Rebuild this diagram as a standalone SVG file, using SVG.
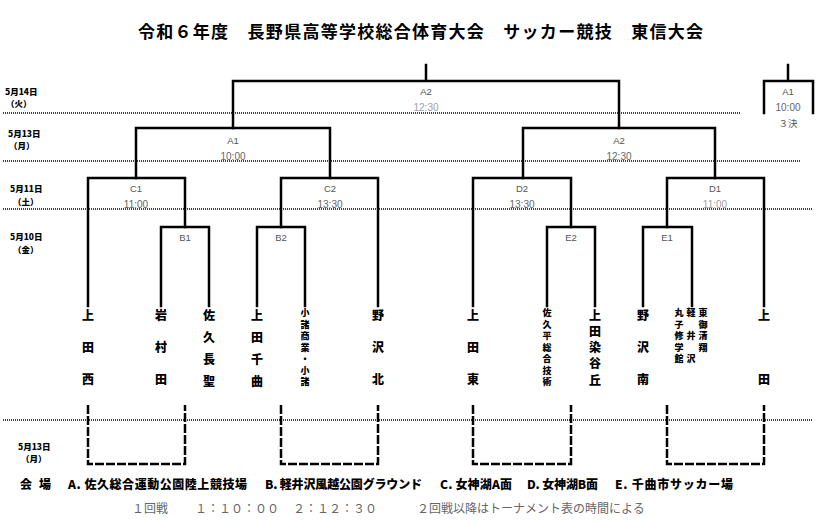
<svg xmlns="http://www.w3.org/2000/svg" width="827" height="522" viewBox="0 0 827 522">
<style>
.bg{fill:#fff}
.title{font-family:"Noto Sans CJK JP","Liberation Sans",sans-serif;font-weight:700;font-size:17px;fill:#000}
.date{font-family:"Noto Sans CJK JP","Liberation Sans",sans-serif;font-weight:900;font-size:8.5px;fill:#000}
.grid{stroke:#000;stroke-width:1.5;stroke-dasharray:1 1;fill:none}
.br{stroke:#000;stroke-width:2.5;fill:none;stroke-linecap:square}
.dash{stroke:#000;stroke-width:2.5;fill:none;stroke-dasharray:9 2}
.lbl{font-family:"Liberation Sans","Noto Sans CJK JP",sans-serif;font-size:9.5px;fill:#555;text-anchor:middle}
.tm{font-family:"Liberation Sans","Noto Sans CJK JP",sans-serif;font-size:10px;fill:#666;text-anchor:middle}
.tm2{fill:#a0a0a0}
.team{font-family:"Noto Sans CJK JP",sans-serif;font-weight:900;font-size:12px;fill:#000;text-anchor:middle}
.sm{font-size:9px}
.sm2{font-size:9px}
.foot{font-family:"Noto Sans CJK JP","Liberation Sans",sans-serif;font-weight:900;font-size:12px;fill:#000}
.foot2{font-family:"Noto Sans CJK JP","Liberation Sans",sans-serif;font-size:12px;fill:#666}
</style>
<rect class="bg" x="0" y="0" width="827" height="522"/>
<text class="title" x="138" y="38" textLength="565" lengthAdjust="spacing">令和６年度　長野県高等学校総合体育大会　サッカー競技　東信大会</text>

<g id="grid">
<line class="grid" x1="3" y1="113" x2="740" y2="113"/>
<line class="grid" x1="3" y1="161" x2="800" y2="161"/>
<line class="grid" x1="3" y1="209" x2="812" y2="209"/>
<line class="grid" x1="3" y1="420" x2="812" y2="420"/>
</g>

<g id="dates">
<text class="date" x="5" y="95">5月14日</text>
<text class="date" x="6" y="107">（火）</text>
<text class="date" x="8" y="137">5月13日</text>
<text class="date" x="9" y="149">（月）</text>
<text class="date" x="10" y="192">5月11日</text>
<text class="date" x="13" y="205">（土）</text>
<text class="date" x="10" y="240">5月10日</text>
<text class="date" x="13" y="253">（金）</text>
<text class="date" x="18" y="450">5月13日</text>
<text class="date" x="21" y="462">（月）</text>
</g>

<g id="connectors">
<path class="br" d="M426 65V81M233 128V81H619V128"/>
<path class="br" d="M136 178V128H330V178"/>
<path class="br" d="M523 178V128H715V178"/>
<path class="br" d="M88 306V178H185V227"/>
<path class="br" d="M161 306V227H209V306"/>
<path class="br" d="M281 227V178H378V306"/>
<path class="br" d="M257 306V227H305V306"/>
<path class="br" d="M473 306V178H571V227"/>
<path class="br" d="M547 306V227H595V306"/>
<path class="br" d="M667 227V178H764V306"/>
<path class="br" d="M643 306V227H692V306"/>
<path class="br" d="M788 65V81M764 113V81H813V113"/>
<path class="dash" d="M88 405V464H185V405"/>
<path class="dash" d="M281 405V464H378V405"/>
<path class="dash" d="M473 405V464H571V405"/>
<path class="dash" d="M667 405V464H764V405"/>
</g>

<g id="final">
<text class="lbl" x="426" y="95">A2</text>
<text class="tm tm2" x="426" y="111">12:30</text>
</g>
<g id="third">
<text class="lbl" x="788" y="95">A1</text>
<text class="tm" x="788" y="111">10:00</text>
<text class="lbl" x="788" y="127" style="font-family:'Noto Sans CJK JP',sans-serif">３決</text>
</g>
<g id="semi-A1">
<text class="lbl" x="233" y="144">A1</text>
<text class="tm" x="233" y="160">10:00</text>
</g>
<g id="semi-A2">
<text class="lbl" x="619" y="144">A2</text>
<text class="tm" x="619" y="160">12:30</text>
</g>
<g id="qf-C1">
<text class="lbl" x="136" y="192">C1</text>
<text class="tm" x="136" y="208">11:00</text>
</g>
<g id="qf-C2">
<text class="lbl" x="330" y="192">C2</text>
<text class="tm" x="330" y="208">13:30</text>
</g>
<g id="qf-D2">
<text class="lbl" x="522" y="192">D2</text>
<text class="tm" x="522" y="208">13:30</text>
</g>
<g id="qf-D1">
<text class="lbl" x="715" y="192">D1</text>
<text class="tm tm2" x="715" y="208">11:00</text>
</g>
<g id="r1-B1"><text class="lbl" x="185" y="241">B1</text></g>
<g id="r1-B2"><text class="lbl" x="281" y="241">B2</text></g>
<g id="r1-E2"><text class="lbl" x="571" y="241">E2</text></g>
<g id="r1-E1"><text class="lbl" x="667" y="241">E1</text></g>

<g id="team-uedanishi"><text class="team"><tspan x="88" y="319.5">上</tspan><tspan x="88" y="351.5">田</tspan><tspan x="88" y="383.5">西</tspan></text></g>
<g id="team-iwamurada"><text class="team"><tspan x="161" y="319.5">岩</tspan><tspan x="161" y="351.5">村</tspan><tspan x="161" y="383.5">田</tspan></text></g>
<g id="team-sakuchosei"><text class="team"><tspan x="209" y="319.5">佐</tspan><tspan x="209" y="342">久</tspan><tspan x="209" y="364">長</tspan><tspan x="209" y="385.5">聖</tspan></text></g>
<g id="team-uedachikuma"><text class="team"><tspan x="257" y="319.5">上</tspan><tspan x="257" y="342">田</tspan><tspan x="257" y="364">千</tspan><tspan x="257" y="385.5">曲</tspan></text></g>
<g id="team-komoro"><text class="team sm"><tspan x="305" y="316.4">小</tspan><tspan x="305" y="327.9">諸</tspan><tspan x="305" y="339.4">商</tspan><tspan x="305" y="350.9">業</tspan><tspan x="305" y="362.4">・</tspan><tspan x="305" y="373.9">小</tspan><tspan x="305" y="385.4">諸</tspan></text></g>
<g id="team-nozawakita"><text class="team"><tspan x="378" y="319.5">野</tspan><tspan x="378" y="351.5">沢</tspan><tspan x="378" y="383.5">北</tspan></text></g>
<g id="team-uedahigashi"><text class="team"><tspan x="473" y="319.5">上</tspan><tspan x="473" y="351.5">田</tspan><tspan x="473" y="383.5">東</tspan></text></g>
<g id="team-sakudaira"><text class="team sm"><tspan x="547" y="316.4">佐</tspan><tspan x="547" y="327.9">久</tspan><tspan x="547" y="339.4">平</tspan><tspan x="547" y="350.9">総</tspan><tspan x="547" y="362.4">合</tspan><tspan x="547" y="373.9">技</tspan><tspan x="547" y="385.4">術</tspan></text></g>
<g id="team-someyagaoka"><text class="team"><tspan x="595" y="319.5">上</tspan><tspan x="595" y="335.75">田</tspan><tspan x="595" y="352">染</tspan><tspan x="595" y="368.25">谷</tspan><tspan x="595" y="384.5">丘</tspan></text></g>
<g id="team-nozawaminami"><text class="team"><tspan x="643" y="319.5">野</tspan><tspan x="643" y="351.5">沢</tspan><tspan x="643" y="383.5">南</tspan></text></g>
<g id="team-joint">
<text class="team sm2"><tspan x="679" y="316.4">丸</tspan><tspan x="679" y="327.9">子</tspan><tspan x="679" y="339.4">修</tspan><tspan x="679" y="350.9">学</tspan><tspan x="679" y="362.4">館</tspan></text>
<text class="team sm2"><tspan x="691" y="316.4">軽</tspan><tspan x="691" y="339.4">井</tspan><tspan x="691" y="362.4">沢</tspan></text>
<text class="team sm2"><tspan x="703" y="316.4">東</tspan><tspan x="703" y="327.9">御</tspan><tspan x="703" y="339.4">清</tspan><tspan x="703" y="350.9">翔</tspan></text>
</g>
<g id="team-ueda"><text class="team"><tspan x="764" y="319.5">上</tspan><tspan x="764" y="383.5">田</tspan></text></g>

<g id="footer">
<text class="foot" y="489"><tspan x="20">会</tspan><tspan x="39">場</tspan></text>
<text class="foot" x="68" y="489" textLength="179" lengthAdjust="spacing">A. 佐久総合運動公園陸上競技場</text>
<text class="foot" x="265" y="489" textLength="157" lengthAdjust="spacing">B. 軽井沢風越公園グラウンド</text>
<text class="foot" x="440" y="489" textLength="72" lengthAdjust="spacing">C. 女神湖A面</text>
<text class="foot" x="527" y="489" textLength="71" lengthAdjust="spacing">D. 女神湖B面</text>
<text class="foot" x="615" y="489" textLength="118" lengthAdjust="spacing">E. 千曲市サッカー場</text>
<text class="foot2" y="513"><tspan x="132">１回戦</tspan><tspan x="195">１：１０：００</tspan><tspan x="293">２：１２：３０</tspan><tspan x="417">２回戦以降はトーナメント表の時間による</tspan></text>
</g>
</svg>
